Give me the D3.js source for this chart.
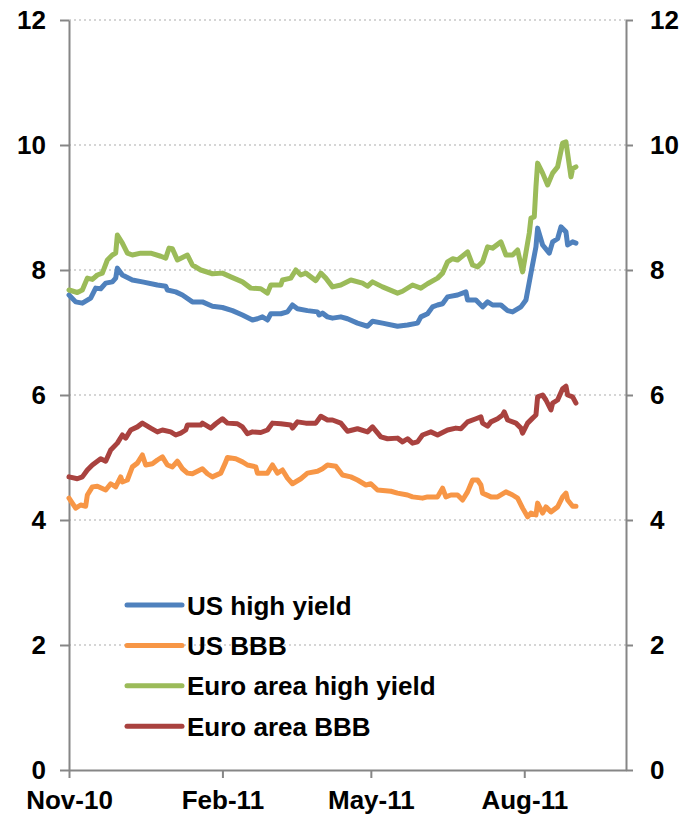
<!DOCTYPE html>
<html>
<head>
<meta charset="utf-8">
<script src="https://cdn.jsdelivr.net/npm/d3@7"></script>
<style>
  body { margin: 0; background: #fff; }
  svg { display: block; font-family: "Liberation Sans", Arial, sans-serif; }
  .axis text { font-size: 26px; font-weight: bold; fill: #000; }
  .axis path, .axis line { stroke: #868686; stroke-width: 2; }
  .grid line { stroke: #c8c8c8; stroke-width: 1.3; stroke-dasharray: 2,3; }
  .series { fill: none; stroke-width: 5; stroke-linejoin: round; stroke-linecap: round; }
  .legend text { font-size: 26px; font-weight: bold; fill: #000; }
</style>
</head>
<body>
<div id="chart"></div>
<script>
/* Corporate bond yields, Nov-10 to Sep-11 (per cent) */

const seriesNames = ['US high yield', 'US BBB', 'Euro area high yield', 'Euro area BBB'];
const seriesColors = ['#4f81bd', '#f79646', '#9bbb59', '#a9423f'];

const xTickDates = ['2010-11-01', '2011-02-01', '2011-05-01', '2011-08-01'];
const yTicks = [0, 2, 4, 6, 8, 10, 12];

const usHighYield = [
  ['2010-11-01', 7.60], ['2010-11-05', 7.49], ['2010-11-09', 7.47], ['2010-11-14', 7.55],
  ['2010-11-17', 7.71], ['2010-11-20', 7.70], ['2010-11-23', 7.79], ['2010-11-27', 7.81],
  ['2010-11-29', 7.87], ['2010-11-30', 8.03], ['2010-12-03', 7.92], ['2010-12-09', 7.84],
  ['2010-12-15', 7.81], ['2010-12-24', 7.76], ['2010-12-29', 7.74], ['2010-12-30', 7.68],
  ['2011-01-04', 7.65], ['2011-01-08', 7.60], ['2011-01-14', 7.49], ['2011-01-20', 7.49],
  ['2011-01-26', 7.42], ['2011-02-01', 7.40], ['2011-02-07', 7.35], ['2011-02-13', 7.28],
  ['2011-02-19', 7.20], ['2011-02-22', 7.22], ['2011-02-25', 7.25], ['2011-02-28', 7.20],
  ['2011-03-02', 7.30], ['2011-03-08', 7.30], ['2011-03-12', 7.33], ['2011-03-15', 7.44],
  ['2011-03-18', 7.38], ['2011-03-24', 7.35], ['2011-03-30', 7.33], ['2011-03-31', 7.28],
  ['2011-04-02', 7.31], ['2011-04-05', 7.25], ['2011-04-08', 7.23], ['2011-04-13', 7.25],
  ['2011-04-17', 7.22], ['2011-04-23', 7.15], ['2011-04-29', 7.10], ['2011-05-02', 7.18],
  ['2011-05-08', 7.15], ['2011-05-17', 7.10], ['2011-05-23', 7.12], ['2011-05-29', 7.15],
  ['2011-05-31', 7.25], ['2011-06-04', 7.30], ['2011-06-07', 7.41], ['2011-06-10', 7.44],
  ['2011-06-13', 7.46], ['2011-06-16', 7.57], ['2011-06-22', 7.60], ['2011-06-27', 7.65],
  ['2011-06-28', 7.52], ['2011-07-03', 7.52], ['2011-07-07', 7.41], ['2011-07-10', 7.49],
  ['2011-07-13', 7.44], ['2011-07-18', 7.44], ['2011-07-22', 7.35], ['2011-07-25', 7.33],
  ['2011-07-30', 7.41], ['2011-08-02', 7.52], ['2011-08-05', 7.95], ['2011-08-08', 8.37],
  ['2011-08-09', 8.67], ['2011-08-12', 8.40], ['2011-08-16', 8.27], ['2011-08-18', 8.45],
  ['2011-08-21', 8.50], ['2011-08-23', 8.69], ['2011-08-26', 8.61], ['2011-08-27', 8.40],
  ['2011-08-30', 8.45], ['2011-09-01', 8.43]
];

const usBBB = [
  ['2010-11-01', 4.35], ['2010-11-05', 4.19], ['2010-11-08', 4.24], ['2010-11-11', 4.22],
  ['2010-11-12', 4.40], ['2010-11-15', 4.53], ['2010-11-18', 4.54], ['2010-11-23', 4.48],
  ['2010-11-26', 4.58], ['2010-11-29', 4.53], ['2010-12-02', 4.69], ['2010-12-03', 4.61],
  ['2010-12-06', 4.64], ['2010-12-09', 4.85], ['2010-12-12', 4.91], ['2010-12-15', 5.04],
  ['2010-12-17', 4.88], ['2010-12-21', 4.90], ['2010-12-24', 4.96], ['2010-12-27', 5.01],
  ['2010-12-30', 4.88], ['2011-01-02', 4.85], ['2011-01-05', 4.94], ['2011-01-08', 4.82],
  ['2011-01-11', 4.75], ['2011-01-14', 4.74], ['2011-01-20', 4.82], ['2011-01-23', 4.74],
  ['2011-01-26', 4.69], ['2011-01-31', 4.75], ['2011-02-03', 4.93], ['2011-02-04', 5.00],
  ['2011-02-09', 4.98], ['2011-02-13', 4.93], ['2011-02-16', 4.88], ['2011-02-21', 4.85],
  ['2011-02-22', 4.75], ['2011-02-25', 4.75], ['2011-02-28', 4.75], ['2011-03-03', 4.88],
  ['2011-03-06', 4.75], ['2011-03-09', 4.80], ['2011-03-12', 4.67], ['2011-03-15', 4.58],
  ['2011-03-20', 4.66], ['2011-03-24', 4.75], ['2011-03-30', 4.78], ['2011-04-02', 4.82],
  ['2011-04-05', 4.88], ['2011-04-10', 4.86], ['2011-04-14', 4.72], ['2011-04-19', 4.69],
  ['2011-04-23', 4.64], ['2011-04-28', 4.56], ['2011-05-01', 4.58], ['2011-05-05', 4.48],
  ['2011-05-13', 4.46], ['2011-05-17', 4.43], ['2011-05-23', 4.40], ['2011-05-26', 4.37],
  ['2011-06-01', 4.35], ['2011-06-04', 4.37], ['2011-06-10', 4.37], ['2011-06-13', 4.51],
  ['2011-06-15', 4.37], ['2011-06-18', 4.40], ['2011-06-22', 4.40], ['2011-06-25', 4.32],
  ['2011-06-28', 4.45], ['2011-07-01', 4.64], ['2011-07-04', 4.64], ['2011-07-06', 4.56],
  ['2011-07-07', 4.43], ['2011-07-12', 4.37], ['2011-07-16', 4.37], ['2011-07-21', 4.45],
  ['2011-07-25', 4.40], ['2011-07-28', 4.35], ['2011-07-31', 4.19], ['2011-08-03', 4.05],
  ['2011-08-05', 4.11], ['2011-08-08', 4.08], ['2011-08-09', 4.27], ['2011-08-12', 4.11],
  ['2011-08-14', 4.21], ['2011-08-17', 4.13], ['2011-08-21', 4.21], ['2011-08-24', 4.37],
  ['2011-08-26', 4.43], ['2011-08-27', 4.32], ['2011-08-30', 4.22], ['2011-09-01', 4.22]
];

const euroHighYield = [
  ['2010-11-01', 7.68], ['2010-11-06', 7.64], ['2010-11-09', 7.68], ['2010-11-12', 7.87],
  ['2010-11-15', 7.85], ['2010-11-18', 7.92], ['2010-11-21', 7.95], ['2010-11-24', 8.16],
  ['2010-11-27', 8.24], ['2010-11-29', 8.27], ['2010-11-30', 8.56], ['2010-12-03', 8.43],
  ['2010-12-06', 8.27], ['2010-12-09', 8.24], ['2010-12-14', 8.27], ['2010-12-20', 8.27],
  ['2010-12-26', 8.22], ['2010-12-29', 8.19], ['2010-12-31', 8.35], ['2011-01-02', 8.34],
  ['2011-01-05', 8.16], ['2011-01-11', 8.24], ['2011-01-14', 8.08], ['2011-01-19', 8.00],
  ['2011-01-26', 7.94], ['2011-02-01', 7.95], ['2011-02-06', 7.89], ['2011-02-13', 7.81],
  ['2011-02-18', 7.71], ['2011-02-24', 7.70], ['2011-02-28', 7.63], ['2011-03-02', 7.76],
  ['2011-03-08', 7.76], ['2011-03-09', 7.84], ['2011-03-14', 7.87], ['2011-03-17', 8.00],
  ['2011-03-20', 7.92], ['2011-03-23', 7.95], ['2011-03-29', 7.83], ['2011-04-01', 7.95],
  ['2011-04-04', 7.87], ['2011-04-08', 7.73], ['2011-04-13', 7.76], ['2011-04-19', 7.84],
  ['2011-04-26', 7.79], ['2011-04-29', 7.74], ['2011-05-02', 7.81], ['2011-05-08', 7.73],
  ['2011-05-17', 7.63], ['2011-05-20', 7.66], ['2011-05-26', 7.76], ['2011-05-31', 7.71],
  ['2011-06-04', 7.78], ['2011-06-10', 7.87], ['2011-06-13', 7.95], ['2011-06-16', 8.13],
  ['2011-06-19', 8.18], ['2011-06-22', 8.16], ['2011-06-28', 8.29], ['2011-07-01', 8.08],
  ['2011-07-04', 8.05], ['2011-07-07', 8.13], ['2011-07-10', 8.37], ['2011-07-13', 8.35],
  ['2011-07-18', 8.45], ['2011-07-21', 8.24], ['2011-07-25', 8.24], ['2011-07-28', 8.32],
  ['2011-07-31', 7.97], ['2011-08-04', 8.59], ['2011-08-05', 8.83], ['2011-08-07', 8.85],
  ['2011-08-08', 9.33], ['2011-08-09', 9.71], ['2011-08-12', 9.55], ['2011-08-15', 9.36],
  ['2011-08-18', 9.55], ['2011-08-21', 9.65], ['2011-08-24', 10.03], ['2011-08-26', 10.05],
  ['2011-08-29', 9.49], ['2011-08-30', 9.62], ['2011-09-01', 9.65]
];

const euroBBB = [
  ['2010-11-01', 4.69], ['2010-11-06', 4.66], ['2010-11-09', 4.69], ['2010-11-12', 4.80],
  ['2010-11-15', 4.88], ['2010-11-20', 4.98], ['2010-11-23', 4.94], ['2010-11-26', 5.12],
  ['2010-11-30', 5.23], ['2010-12-03', 5.36], ['2010-12-05', 5.31], ['2010-12-08', 5.44],
  ['2010-12-12', 5.49], ['2010-12-15', 5.55], ['2010-12-20', 5.47], ['2010-12-24', 5.41],
  ['2010-12-27', 5.44], ['2011-01-01', 5.41], ['2011-01-04', 5.36], ['2011-01-07', 5.39],
  ['2011-01-10', 5.44], ['2011-01-11', 5.52], ['2011-01-19', 5.52], ['2011-01-20', 5.55],
  ['2011-01-25', 5.47], ['2011-01-28', 5.54], ['2011-02-01', 5.62], ['2011-02-04', 5.55],
  ['2011-02-10', 5.54], ['2011-02-13', 5.49], ['2011-02-16', 5.38], ['2011-02-19', 5.41],
  ['2011-02-24', 5.40], ['2011-02-28', 5.44], ['2011-03-03', 5.55], ['2011-03-08', 5.54],
  ['2011-03-14', 5.52], ['2011-03-15', 5.47], ['2011-03-18', 5.57], ['2011-03-23', 5.55],
  ['2011-03-29', 5.55], ['2011-04-01', 5.66], ['2011-04-05', 5.60], ['2011-04-08', 5.60],
  ['2011-04-13', 5.55], ['2011-04-17', 5.42], ['2011-04-23', 5.46], ['2011-04-29', 5.41],
  ['2011-05-02', 5.49], ['2011-05-07', 5.33], ['2011-05-11', 5.30], ['2011-05-17', 5.31],
  ['2011-05-20', 5.25], ['2011-05-23', 5.30], ['2011-05-26', 5.23], ['2011-05-29', 5.25],
  ['2011-06-01', 5.36], ['2011-06-06', 5.41], ['2011-06-10', 5.36], ['2011-06-16', 5.44],
  ['2011-06-21', 5.47], ['2011-06-24', 5.46], ['2011-06-28', 5.57], ['2011-07-03', 5.62],
  ['2011-07-06', 5.65], ['2011-07-07', 5.55], ['2011-07-10', 5.50], ['2011-07-12', 5.57],
  ['2011-07-16', 5.62], ['2011-07-19', 5.68], ['2011-07-20', 5.73], ['2011-07-22', 5.60],
  ['2011-07-27', 5.55], ['2011-07-30', 5.47], ['2011-07-31', 5.39], ['2011-08-03', 5.55],
  ['2011-08-06', 5.63], ['2011-08-08', 5.68], ['2011-08-09', 5.97], ['2011-08-12', 6.00],
  ['2011-08-14', 5.92], ['2011-08-17', 5.76], ['2011-08-18', 5.87], ['2011-08-21', 5.92],
  ['2011-08-24', 6.10], ['2011-08-26', 6.14], ['2011-08-27', 6.00], ['2011-08-30', 5.97],
  ['2011-09-01', 5.87]
];

const seriesData = [usHighYield, usBBB, euroHighYield, euroBBB];

function drawChart() {
  const width = 690, height = 818;
  const margin = { top: 20, right: 64, bottom: 48, left: 69 };
  const inner = { width: width - margin.left - margin.right, height: height - margin.top - margin.bottom };
  const parse = d3.timeParse('%Y-%m-%d');

  const svg = d3.select('#chart').append('svg')
    .attr('width', width).attr('height', height);

  const g = svg.append('g').attr('transform', `translate(${margin.left},${margin.top})`);

  const x = d3.scaleTime()
    .domain([parse('2010-11-01'), parse('2011-10-01')])
    .range([0, inner.width]);
  const y = d3.scaleLinear().domain([0, 12]).range([inner.height, 0]);

  // dotted gridlines
  g.append('g').attr('class', 'grid')
    .selectAll('line').data(yTicks.filter(d => d > 0)).enter().append('line')
    .attr('x1', 0).attr('x2', inner.width)
    .attr('y1', d => y(d)).attr('y2', d => y(d));

  // axes
  g.append('g').attr('class', 'axis')
    .call(d3.axisLeft(y).tickValues(yTicks).tickSize(9).tickPadding(14).tickSizeOuter(0));

  g.append('g').attr('class', 'axis').attr('transform', `translate(${inner.width},0)`)
    .call(d3.axisRight(y).tickValues(yTicks).tickSize(7).tickPadding(17).tickSizeOuter(0));

  const xAxis = g.append('g').attr('class', 'axis').attr('transform', `translate(0,${inner.height})`)
    .call(d3.axisBottom(x).tickValues(xTickDates.map(parse))
      .tickFormat(d3.timeFormat('%b-%y')).tickSize(8).tickPadding(12).tickSizeOuter(0));
  xAxis.selectAll('.tick text').attr('dy', '0.72em');

  // series lines
  const line = d3.line()
    .x(d => x(parse(d[0])))
    .y(d => y(d[1]));

  g.selectAll('.series').data(seriesData).enter().append('path')
    .attr('class', 'series')
    .attr('stroke', (d, i) => seriesColors[i])
    .attr('d', line);

  // legend
  const legend = svg.append('g').attr('class', 'legend').attr('transform', 'translate(127,605)');
  const rows = legend.selectAll('g').data(seriesNames).enter().append('g')
    .attr('transform', (d, i) => `translate(0,${i * 40.4})`);

  rows.append('line')
    .attr('x1', 0).attr('x2', 55).attr('y1', 0).attr('y2', 0)
    .attr('stroke', (d, i) => seriesColors[i])
    .attr('stroke-width', 5)
    .attr('stroke-linecap', 'round');

  rows.append('text')
    .attr('x', 60).attr('y', 9.5)
    .text(d => d);
}

drawChart();
</script>
</body>
</html>
